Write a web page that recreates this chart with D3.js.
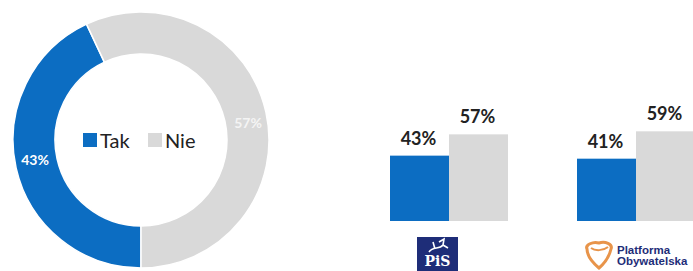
<!DOCTYPE html>
<html><head><meta charset="utf-8">
<script src="https://cdn.jsdelivr.net/npm/d3@7"></script>
<style>html,body{margin:0;padding:0;background:#fff;overflow:hidden}svg{display:block}</style>
</head><body>
<svg id="c" width="693" height="271"></svg>
<script>
const donutCategories = ["Tak", "Nie"];
const donutValues = [43, 57];
const parties = ["PiS", "Platforma Obywatelska"];
const takValues = [43, 41];
const nieValues = [57, 59];
const seriesNames = ["Tak", "Nie"];
const colors = {Tak: "#0C6DC2", Nie: "#D9D9D9"};

const svg = d3.select("#c");
const font = "Lato, 'Open Sans', sans-serif";

// Donut
const cx = 141, cy = 140, rOut = 128, rIn = 86;
const pie = d3.pie().sort(null).startAngle(Math.PI).endAngle(3 * Math.PI);
const arc = d3.arc().innerRadius(rIn).outerRadius(rOut);
const arcs = pie(donutValues);
const dg = svg.append("g").attr("transform", `translate(${cx},${cy})`);
dg.selectAll("path").data(arcs).join("path")
  .attr("d", arc)
  .attr("fill", (d, i) => colors[donutCategories[i]])
  .attr("stroke", "#fff").attr("stroke-width", 1.5);

const labelPos = [[-106, 20], [107, -17]];
dg.selectAll("text.pl").data(arcs).join("text")
  .attr("class", "pl")
  .attr("x", (d, i) => labelPos[i][0]).attr("y", (d, i) => labelPos[i][1] + 5)
  .attr("text-anchor", "middle")
  .attr("font-family", font).attr("font-weight", "bold").attr("font-size", 14)
  .attr("fill", (d, i) => i === 0 ? "#fff" : "#f4f4f4")
  .text((d, i) => donutValues[i] + "%");

// legend in center
const lg = svg.append("g");
const legX = [83, 148];
donutCategories.forEach((c, i) => {
  lg.append("rect").attr("x", legX[i]).attr("y", 133).attr("width", 14).attr("height", 14).attr("fill", colors[c]);
  lg.append("text").attr("x", legX[i] + 17).attr("y", 148)
    .attr("font-family", font).attr("font-size", 20).attr("fill", "#222").text(c);
});

// Bars
const y = d3.scaleLinear().domain([0, 100]).range([221, 69]);
const x0 = d3.scaleBand().domain(parties).range([390, 695]).paddingInner(0.369).paddingOuter(0);
const x1 = d3.scaleBand().domain(seriesNames).range([0, x0.bandwidth()]).padding(0);
const barData = parties.map((p, i) => ({party: p, vals: [{s: "Tak", v: takValues[i]}, {s: "Nie", v: nieValues[i]}]}));
const bg = svg.append("g");
const groups = bg.selectAll("g").data(barData).join("g")
  .attr("transform", d => `translate(${x0(d.party)},0)`);
groups.selectAll("rect").data(d => d.vals).join("rect")
  .attr("x", d => x1(d.s)).attr("width", x1.bandwidth())
  .attr("y", d => y(d.v)).attr("height", d => y(0) - y(d.v))
  .attr("fill", d => colors[d.s]);
groups.selectAll("text").data(d => d.vals).join("text")
  .attr("x", d => x1(d.s) + x1.bandwidth() / 2 - 1)
  .attr("y", d => y(d.v) - 11)
  .attr("text-anchor", "middle")
  .attr("font-family", font).attr("font-weight", "bold").attr("font-size", 18)
  .attr("fill", "#222").text(d => d.v + "%");

// Logos
const pisX = x0(parties[0]) + 27;
const pis = svg.append("g").attr("transform", `translate(${pisX},237)`);
pis.append("rect").attr("width", 41).attr("height", 36).attr("fill", "#1E2D78");
pis.append("path").attr("d", "M12,15 C16,9 22,13 26,8 M22,5 L27,2 L26,8 L31,11 M18,12 L16,5")
  .attr("fill", "none").attr("stroke", "#fff").attr("stroke-width", 1.6);
pis.append("text").attr("x", 20.5).attr("y", 29).attr("text-anchor", "middle")
  .attr("font-family", "'DejaVu Serif', serif").attr("font-weight", "bold").attr("font-size", 14)
  .attr("fill", "#fff").text("PiS");

const poX = x0(parties[1]) + 6;
const po = svg.append("g").attr("transform", `translate(${poX},241)`);
po.append("path").attr("d", "M4,8 C2,4 10,0 16,2 C22,0 30,3 28,8 C26,16 22,22 16,27 C10,22 4,16 4,8 Z")
  .attr("fill", "none").attr("stroke", "#E8944A").attr("stroke-width", 3);
po.append("path").attr("d", "M8,7 C12,10 20,10 25,6").attr("fill", "none").attr("stroke", "#E8944A").attr("stroke-width", 2);
po.append("text").attr("x", 34).attr("y", 13).attr("font-family", "'Liberation Sans', Arial, sans-serif")
  .attr("font-weight", "bold").attr("font-size", 11.5).attr("fill", "#1E2D78").text("Platforma");
po.append("text").attr("x", 34).attr("y", 24).attr("font-family", "'Liberation Sans', Arial, sans-serif")
  .attr("font-weight", "bold").attr("font-size", 11.5).attr("fill", "#1E2D78").text("Obywatelska");
</script>
</body></html>
